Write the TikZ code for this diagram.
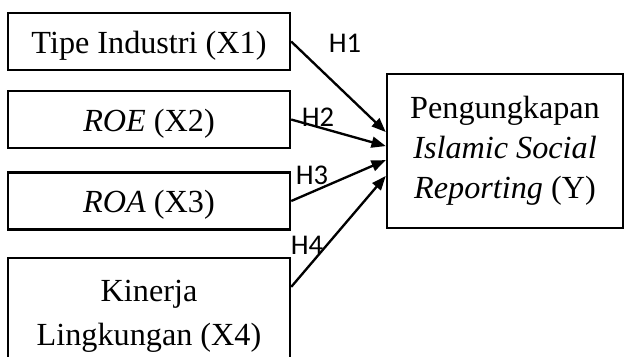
\documentclass[tikz,border=0pt]{standalone}
\usepackage{fontspec}
\setmainfont{Liberation Serif}
\newfontfamily\hfont{Carlito}
\usetikzlibrary{arrows.meta}

\begin{document}
\begin{tikzpicture}[x=0.385pt, y=-0.385pt,
    varbox/.style={draw, line width=0.9pt, inner sep=0pt, align=center,
      minimum width=108.6pt, font=\fontsize{12.4}{16.8}\selectfont},
    onebox/.style={varbox, minimum height=22pt, text height=11.8pt, text depth=2.6pt},
    hyp/.style={line width=0.9pt, -{Triangle[length=5.5pt, width=4.2pt]}},
    hlabel/.style={font=\hfont\fontsize{11}{13}\selectfont, inner sep=0pt}]
  \useasboundingbox (0,0) rectangle (625,356);
  \clip (0,0) rectangle (625,356);

  % independent variables
  \node[onebox] (x1) at (149, 41.5) {Tipe Industri (X1)};
  \node[onebox] (x2) at (149, 119.5) {\textit{ROE} (X2)};
  \node[onebox] (x3) at (149, 201) {\textit{ROA} (X3)};
  \node[varbox, minimum height=45pt] (x4) at (149, 316.5) {Kinerja\\Lingkungan (X4)};

  % dependent variable
  \node[varbox, minimum width=90.9pt, minimum height=59.3pt,
    font=\fontsize{12.4}{15.4}\selectfont] (y) at (505, 151)
    {Pengungkapan\\\textit{Islamic Social}\\\textit{Reporting} (Y)};

  \draw[hyp] (x1.east) -- ([yshift=7.3pt]y.west);
  \draw[hyp] (x2.east) -- ([yshift=1.9pt]y.west);
  \draw[hyp] (x3.east) -- ([yshift=-3.5pt]y.west);
  \draw[hyp] ([yshift=11.4pt]x4.east) -- ([yshift=-9.6pt]y.west);

  \node[hlabel] (h1) at (345, 43) {H1};
  \node[hlabel] (h2) at (318, 117) {H2};
  \node[hlabel] (h3) at (312, 175) {H3};
  \node[hlabel] (h4) at (307, 245) {H4};
\end{tikzpicture}
\end{document}
